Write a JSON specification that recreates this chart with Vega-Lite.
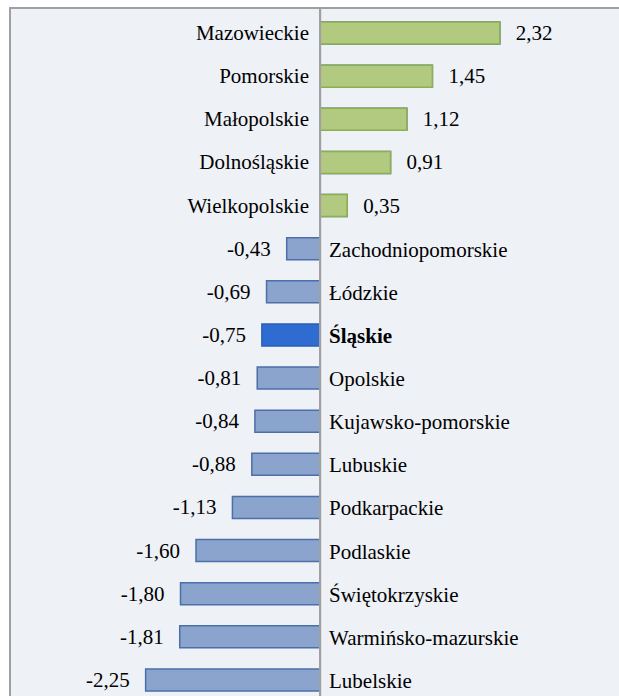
{
  "$schema": "https://vega.github.io/schema/vega-lite/v6.json",
  "autosize": "none",
  "width": 615,
  "height": 697,
  "padding": {"left": 10, "top": 8, "right": 0, "bottom": 0},
  "background": "#ffffff",
  "config": {
    "view": {"stroke": "#a0a0a0", "strokeWidth": 2, "fill": "#eef1f6"},
    "text": {"font": "Liberation Serif, Times New Roman, serif", "fontSize": 21, "color": "#000000"}
  },
  "data": {
    "values": [
      {"name": "Mazowieckie", "value": 2.32, "label": "2,32"},
      {"name": "Pomorskie", "value": 1.45, "label": "1,45"},
      {"name": "Małopolskie", "value": 1.12, "label": "1,12"},
      {"name": "Dolnośląskie", "value": 0.91, "label": "0,91"},
      {"name": "Wielkopolskie", "value": 0.35, "label": "0,35"},
      {"name": "Zachodniopomorskie", "value": -0.43, "label": "-0,43"},
      {"name": "Łódzkie", "value": -0.69, "label": "-0,69"},
      {"name": "Śląskie", "value": -0.75, "label": "-0,75"},
      {"name": "Opolskie", "value": -0.81, "label": "-0,81"},
      {"name": "Kujawsko-pomorskie", "value": -0.84, "label": "-0,84"},
      {"name": "Lubuskie", "value": -0.88, "label": "-0,88"},
      {"name": "Podkarpackie", "value": -1.13, "label": "-1,13"},
      {"name": "Podlaskie", "value": -1.6, "label": "-1,60"},
      {"name": "Świętokrzyskie", "value": -1.8, "label": "-1,80"},
      {"name": "Warmińsko-mazurskie", "value": -1.81, "label": "-1,81"},
      {"name": "Lubelskie", "value": -2.25, "label": "-2,25"}
    ]
  },
  "layer": [
    {
      "mark": {"type": "bar", "strokeWidth": 1.5},
      "encoding": {
        "y": {"field": "name", "type": "nominal", "axis": null,
              "scale": {"domain": ["Mazowieckie", "Pomorskie", "Małopolskie", "Dolnośląskie", "Wielkopolskie", "Zachodniopomorskie", "Łódzkie", "Śląskie", "Opolskie", "Kujawsko-pomorskie", "Lubuskie", "Podkarpackie", "Podlaskie", "Świętokrzyskie", "Warmińsko-mazurskie", "Lubelskie"],
                        "paddingInner": 0.49, "paddingOuter": 0.325}},
        "x": {"field": "value", "type": "quantitative", "axis": null,
              "scale": {"domain": [-4, 3.935], "nice": false, "zero": false}},
        "fill": {"condition": {"test": "datum.name === 'Śląskie'", "value": "#2f6cd2"}, "value": "#8aa4cd"},
        "stroke": {"condition": {"test": "datum.name === 'Śląskie'", "value": "#2a5fb8"}, "value": "#4c6ea9"}
      }
    },
    {
      "mark": {"type": "bar", "strokeWidth": 1.5, "fill": "#b2c980", "stroke": "#8caf50"},
      "encoding": {
        "y": {"field": "name", "type": "nominal"},
        "x": {"field": "value", "type": "quantitative"},
        "opacity": {"condition": {"test": "datum.value < 0", "value": 0}, "value": 1}
      }
    },
    {
      "mark": {"type": "rule", "color": "#a0a0a0", "strokeWidth": 2},
      "encoding": {"x": {"datum": 0, "type": "quantitative"}}
    },
    {
      "mark": {"type": "text", "align": "right", "baseline": "middle", "dx": -11, "dy": 1, "font": "Liberation Serif, Times New Roman, serif"},
      "encoding": {
        "y": {"field": "name", "type": "nominal"},
        "x": {"datum": 0, "type": "quantitative"},
        "text": {"condition": {"test": "datum.value < 0", "value": ""}, "field": "name"}
      }
    },
    {
      "mark": {"type": "text", "align": "left", "baseline": "middle", "dx": 9, "dy": 2, "font": "Liberation Serif, Times New Roman, serif"},
      "encoding": {
        "y": {"field": "name", "type": "nominal"},
        "x": {"datum": 0, "type": "quantitative"},
        "text": {"condition": {"test": "datum.value > 0 || datum.name === 'Śląskie'", "value": ""}, "field": "name"}
      }
    },
    {
      "mark": {"type": "text", "align": "left", "baseline": "middle", "dx": 9, "dy": 2, "fontWeight": "bold", "font": "Liberation Serif, Times New Roman, serif"},
      "encoding": {
        "y": {"field": "name", "type": "nominal"},
        "x": {"datum": 0, "type": "quantitative"},
        "text": {"condition": {"test": "datum.name !== 'Śląskie'", "value": ""}, "field": "name"}
      }
    },
    {
      "mark": {"type": "text", "align": "left", "baseline": "middle", "dx": 16, "dy": 1, "font": "Liberation Serif, Times New Roman, serif"},
      "encoding": {
        "y": {"field": "name", "type": "nominal"},
        "x": {"field": "value", "type": "quantitative"},
        "text": {"condition": {"test": "datum.value < 0", "value": ""}, "field": "label"}
      }
    },
    {
      "mark": {"type": "text", "align": "right", "baseline": "middle", "dx": -16, "dy": 1, "font": "Liberation Serif, Times New Roman, serif"},
      "encoding": {
        "y": {"field": "name", "type": "nominal"},
        "x": {"field": "value", "type": "quantitative"},
        "text": {"condition": {"test": "datum.value > 0", "value": ""}, "field": "label"}
      }
    }
  ]
}
